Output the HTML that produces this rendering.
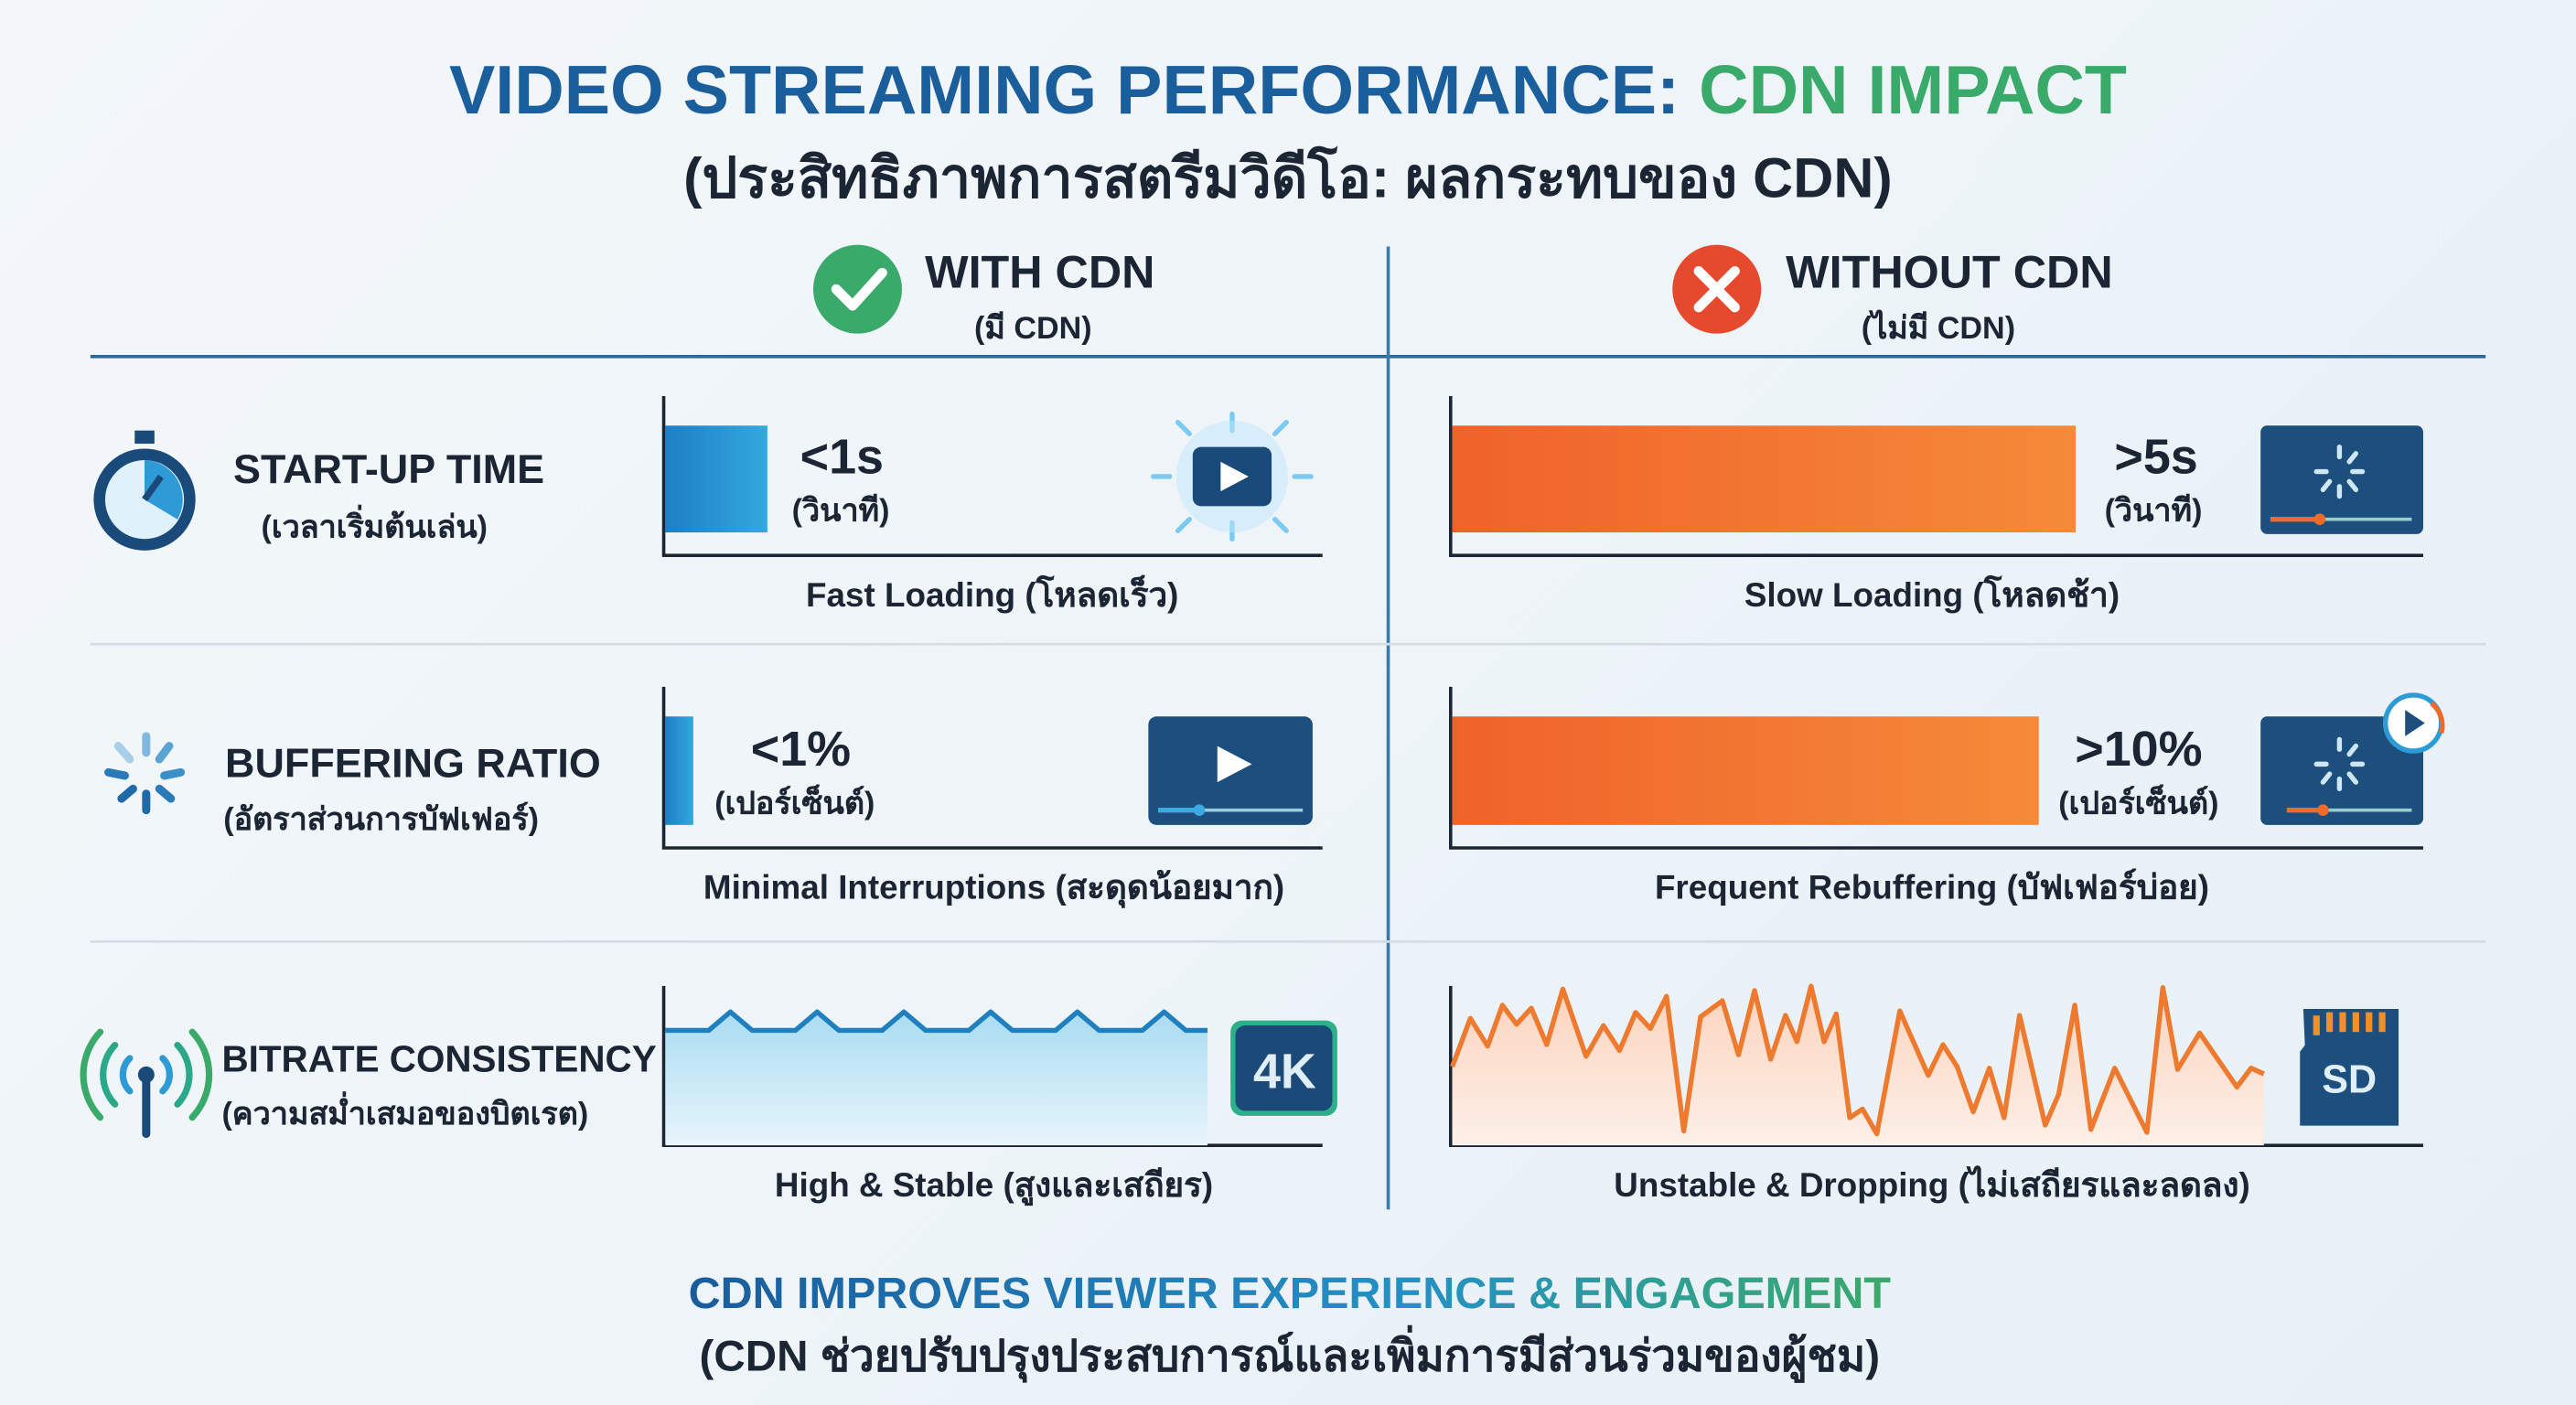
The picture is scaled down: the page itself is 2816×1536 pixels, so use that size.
<!DOCTYPE html>
<html><head><meta charset="utf-8">
<style>
html,body{margin:0;padding:0;width:2816px;height:1536px;overflow:hidden;background:#eef4f8}
#wrap{position:absolute;left:0;top:0;width:1568px;height:855px;transform-origin:0 0;transform:scale(1.79592,1.79649);
background:linear-gradient(135deg,#f3f7fa 0%,#eef4f8 50%,#e6f0f6 100%);font-family:"Liberation Sans","Noto Sans CJK SC",sans-serif;color:#1b2533}
.t{position:absolute;white-space:nowrap;font-weight:bold}
</style></head><body>
<div id="wrap">
<svg width="1568" height="855" style="position:absolute;left:0;top:0">
<defs>
<linearGradient id="og" x1="0" x2="1"><stop offset="0" stop-color="#f0622a"/><stop offset="1" stop-color="#f58a3a"/></linearGradient>
<linearGradient id="bg" x1="0" x2="1"><stop offset="0" stop-color="#1d7fc4"/><stop offset="1" stop-color="#35a8df"/></linearGradient>
<linearGradient id="bf" x1="0" y1="0" x2="0" y2="1"><stop offset="0" stop-color="#a9dcf2"/><stop offset="1" stop-color="#e8f5fb"/></linearGradient>
<linearGradient id="of" x1="0" y1="0" x2="0" y2="1"><stop offset="0" stop-color="#fbd3bd"/><stop offset="1" stop-color="#fdf0e8"/></linearGradient>
<linearGradient id="fg" x1="0" x2="1"><stop offset="0" stop-color="#1a5c9c"/><stop offset="0.6" stop-color="#2590c4"/><stop offset="1" stop-color="#3aaa6a"/></linearGradient>
</defs>
<line x1="55" y1="217" x2="1513" y2="217" stroke="#2a6a9a" stroke-width="2"/>
<line x1="845" y1="150" x2="845" y2="736" stroke="#3a7aa8" stroke-width="2"/>
<line x1="55" y1="392" x2="1513" y2="392" stroke="#d4dde4" stroke-width="1.5"/>
<line x1="55" y1="573" x2="1513" y2="573" stroke="#d4dde4" stroke-width="1.5"/>
<circle cx="522" cy="176" r="27" fill="#3aaa6a"/>
<path d="M509 176 L519 186 L537 166" fill="none" stroke="#fff" stroke-width="6" stroke-linecap="round" stroke-linejoin="round"/>
<circle cx="1045" cy="176" r="27" fill="#e54a2e"/>
<path d="M1034 165 L1056 187 M1056 165 L1034 187" stroke="#fff" stroke-width="6" stroke-linecap="round"/>
<g>
<rect x="82" y="262" width="12" height="8" fill="#1a4a7a"/>
<circle cx="88" cy="304" r="31" fill="#1a4a7a"/><circle cx="88" cy="304" r="24" fill="#dff1fb"/>
<path d="M88 304 L88 280 A24 24 0 0 1 108 316 Z" fill="#2e9ad6"/>
<line x1="88" y1="304" x2="98" y2="290" stroke="#1a4a7a" stroke-width="4"/>
</g>
<g stroke-linecap="round" stroke-width="5">
<line x1="89" y1="448" x2="89" y2="458" stroke="#7fb8dc"/><line x1="103" y1="454" x2="97" y2="462" stroke="#5aa3d2"/>
<line x1="110" y1="470" x2="100" y2="472" stroke="#3a8fc6"/><line x1="104" y1="486" x2="97" y2="480" stroke="#2a7ab8"/>
<line x1="89" y1="493" x2="89" y2="483" stroke="#1e6aa8"/><line x1="74" y1="486" x2="81" y2="480" stroke="#1e6aa8"/>
<line x1="66" y1="470" x2="76" y2="472" stroke="#2a7ab8"/><line x1="72" y1="454" x2="79" y2="462" stroke="#a8cfe8"/>
</g>
<g fill="none" stroke-linecap="round" stroke-width="4">
<circle cx="89" cy="654" r="5" fill="#1a4a7a" stroke="none"/><line x1="89" y1="656" x2="89" y2="690" stroke="#1a4a7a" stroke-width="5"/>
<path d="M79 644 A14 14 0 0 0 79 664 M99 644 A14 14 0 0 1 99 664" stroke="#2e9ad6"/>
<path d="M70 636 A26 26 0 0 0 70 672 M108 636 A26 26 0 0 1 108 672" stroke="#2ba88a"/>
<path d="M61 628 A38 38 0 0 0 61 680 M117 628 A38 38 0 0 1 117 680" stroke="#3aaa6a"/>
</g>
<g id="axes"></g>
<g id="marks"></g>
<g>
<g stroke="#7ccaf0" stroke-width="3" stroke-linecap="round">
<line x1="750" y1="252" x2="750" y2="262"/><line x1="750" y1="318" x2="750" y2="328"/><line x1="712" y1="290" x2="702" y2="290"/><line x1="788" y1="290" x2="798" y2="290"/>
<line x1="724" y1="264" x2="717" y2="257"/><line x1="776" y1="264" x2="783" y2="257"/><line x1="724" y1="316" x2="717" y2="323"/><line x1="776" y1="316" x2="783" y2="323"/></g>
<circle cx="750" cy="290" r="34" fill="#bfe6fa" opacity="0.5"/>
<rect x="726" y="272" width="48" height="36" rx="5" fill="#1a4a7a"/><path d="M743 281 L760 290 L743 299 Z" fill="#fff"/>
</g>
<g>
<rect x="1376" y="259" width="99" height="66" rx="4" fill="#1c4f7e"/>
<g stroke="#cfe6f5" stroke-width="3" stroke-linecap="round"><line x1="1424" y1="272" x2="1424" y2="278"/><line x1="1434" y1="276" x2="1430" y2="281"/><line x1="1438" y1="287" x2="1432" y2="287"/><line x1="1434" y1="298" x2="1430" y2="293"/><line x1="1424" y1="302" x2="1424" y2="296"/><line x1="1414" y1="298" x2="1418" y2="293"/><line x1="1410" y1="287" x2="1416" y2="287"/></g>
<line x1="1382" y1="316" x2="1468" y2="316" stroke="#9cc" stroke-width="2"/><line x1="1382" y1="316" x2="1412" y2="316" stroke="#f06a2a" stroke-width="3"/><circle cx="1412" cy="316" r="3.5" fill="#f06a2a"/>
</g>
<g>
<rect x="699" y="436" width="100" height="66" rx="5" fill="#1c4f7e"/><path d="M741 454 L762 465 L741 476 Z" fill="#fff"/>
<line x1="705" y1="493" x2="793" y2="493" stroke="#9cd" stroke-width="2"/><line x1="705" y1="493" x2="730" y2="493" stroke="#3aaae0" stroke-width="3"/><circle cx="730" cy="493" r="3.5" fill="#3aaae0"/>
</g>
<g>
<rect x="1376" y="436" width="99" height="66" rx="4" fill="#1c4f7e"/>
<g stroke="#cfe6f5" stroke-width="3" stroke-linecap="round"><line x1="1424" y1="450" x2="1424" y2="456"/><line x1="1434" y1="454" x2="1430" y2="459"/><line x1="1438" y1="465" x2="1432" y2="465"/><line x1="1434" y1="476" x2="1430" y2="471"/><line x1="1424" y1="480" x2="1424" y2="474"/><line x1="1414" y1="476" x2="1418" y2="471"/><line x1="1410" y1="465" x2="1416" y2="465"/></g>
<line x1="1392" y1="493" x2="1468" y2="493" stroke="#9cc" stroke-width="2"/><line x1="1392" y1="493" x2="1414" y2="493" stroke="#f06a2a" stroke-width="3"/><circle cx="1414" cy="493" r="3.5" fill="#f06a2a"/>
<circle cx="1469" cy="440" r="17" fill="#fff" stroke="#2e9ad6" stroke-width="3"/><path d="M1464 432 L1476 440 L1464 448 Z" fill="#1c4f7e"/>
<path d="M1480 428 A17 17 0 0 1 1486 446" stroke="#f06a2a" stroke-width="3" fill="none"/>
</g>
<g>
<rect x="749" y="621" width="65" height="58" rx="7" fill="#2bb08a"/><rect x="752" y="624" width="59" height="52" rx="6" fill="#1b4a78"/>
<text x="782" y="662" font-size="30" font-weight="bold" fill="#e0eef8" text-anchor="middle" font-family="Liberation Sans">4K</text>
</g>
<g>
<path d="M1402 614 L1460 614 L1460 685 L1400 685 L1400 640 L1403 636 Z" fill="#1c4f7e"/>
<g fill="#f0902a"><rect x="1408" y="618" width="4" height="12"/><rect x="1416" y="616" width="4" height="12"/><rect x="1424" y="616" width="4" height="12"/><rect x="1432" y="616" width="4" height="12"/><rect x="1440" y="616" width="4" height="12"/><rect x="1448" y="616" width="4" height="12"/></g>
<text x="1430" y="665" font-size="24" font-weight="bold" fill="#e0eef8" text-anchor="middle" font-family="Liberation Sans">SD</text>
</g>
<text x="784" y="69" font-size="42" font-weight="bold" text-anchor="middle" font-family="Liberation Sans"><tspan fill="#1a5e9c">VIDEO STREAMING PERFORMANCE: </tspan><tspan fill="#3aaa6a">CDN IMPACT</tspan></text>
<text x="785" y="796" font-size="27" font-weight="bold" text-anchor="middle" fill="url(#fg)" font-family="Liberation Sans">CDN IMPROVES VIEWER EXPERIENCE &amp; ENGAGEMENT</text>
</svg>
<div class="t" style="left:0;width:1568px;text-align:center;top:81px;font-size:34px">(ประสิทธิภาพการสตรีมวิดีโอ: ผลกระทบของ CDN)</div>
<div class="t" style="left:563px;top:150px;font-size:28px">WITH CDN</div>
<div class="t" style="left:593px;top:185px;font-size:19px">(มี CDN)</div>
<div class="t" style="left:1087px;top:150px;font-size:28px">WITHOUT CDN</div>
<div class="t" style="left:1133px;top:185px;font-size:19px">(ไม่มี CDN)</div>
<div class="t" style="left:142px;top:272px;font-size:25px">START-UP TIME</div>
<div class="t" style="left:159px;top:306px;font-size:19px">(เวลาเริ่มต้นเล่น)</div>
<div class="t" style="left:137px;top:451px;font-size:25px">BUFFERING RATIO</div>
<div class="t" style="left:136px;top:484px;font-size:19px">(อัตราส่วนการบัฟเฟอร์)</div>
<div class="t" style="left:135px;top:632px;font-size:22.5px">BITRATE CONSISTENCY</div>
<div class="t" style="left:135px;top:663px;font-size:19px">(ความสม่ำเสมอของบิตเรต)</div>
<div class="t" style="left:487px;top:262px;font-size:30px">&lt;1s</div>
<div class="t" style="left:482px;top:296px;font-size:19px">(วินาที)</div>
<div class="t" style="left:1287px;top:262px;font-size:30px">&gt;5s</div>
<div class="t" style="left:1281px;top:296px;font-size:19px">(วินาที)</div>
<div class="t" style="left:457px;top:440px;font-size:30px">&lt;1%</div>
<div class="t" style="left:435px;top:474px;font-size:19px">(เปอร์เซ็นต์)</div>
<div class="t" style="left:1263px;top:440px;font-size:30px">&gt;10%</div>
<div class="t" style="left:1253px;top:474px;font-size:19px">(เปอร์เซ็นต์)</div>
<div class="t" style="left:404px;width:400px;text-align:center;top:346px;font-size:20.5px">Fast Loading (โหลดเร็ว)</div>
<div class="t" style="left:876px;width:600px;text-align:center;top:346px;font-size:20.5px">Slow Loading (โหลดช้า)</div>
<div class="t" style="left:355px;width:500px;text-align:center;top:524px;font-size:20.5px">Minimal Interruptions (สะดุดน้อยมาก)</div>
<div class="t" style="left:876px;width:600px;text-align:center;top:524px;font-size:20.5px">Frequent Rebuffering (บัฟเฟอร์บ่อย)</div>
<div class="t" style="left:355px;width:500px;text-align:center;top:705px;font-size:20.5px">High &amp; Stable (สูงและเสถียร)</div>
<div class="t" style="left:876px;width:600px;text-align:center;top:705px;font-size:20.5px">Unstable &amp; Dropping (ไม่เสถียรและลดลง)</div>
<div class="t" style="left:0;width:1570px;text-align:center;top:804px;font-size:26.5px">(CDN ช่วยปรับปรุงประสบการณ์และเพิ่มการมีส่วนร่วมของผู้ชม)</div>
</div>
<script>
const startupSeconds = [0.9, 5.5];
const bufferingPercent = [0.5, 10.5];
const stableBitrate = [5,5,5,5.8,5,5,5,5.8,5,5,5,5.8,5,5,5,5.8,5,5,5,5.8,5,5,5,5.8,5,5];
const unstableTimes = [10,38,65,88,110,133,157,182,218,245,270,295,318,343,370,396,430,455,480,505,528,546,568,588,607,628,648,670,706,750,773,795,820,845,868,892,932,953,978,1003,1040,1090,1115,1138,1172,1230,1252,1272];
const unstableBitrate = [4.6,7.9,6.0,8.8,7.5,8.6,6.1,9.9,5.3,7.4,5.7,8.3,7.2,9.4,0.2,8.0,9.1,5.4,9.8,5.1,8.1,6.3,10.1,6.3,8.2,1.1,1.7,0.0,8.4,4.0,6.1,4.6,1.5,4.5,1.1,8.1,0.6,2.7,8.8,0.3,4.5,0.1,10.0,4.4,6.9,3.2,4.5,4.1];
const NS='http://www.w3.org/2000/svg';
const axes=document.getElementById('axes'), marks=document.getElementById('marks');
function mk(tag,attrs,parent){const e=document.createElementNS(NS,tag);for(const k in attrs)e.setAttribute(k,attrs[k]);parent.appendChild(e);return e;}
[[404,241,338,805],[883,241,338,1475],[404,418,516,805],[883,418,516,1475],[404,600,697,805],[883,600,697,1475]].forEach(function(a){
  const l=mk('path',{d:'M'+a[0]+' '+a[1]+' L'+a[0]+' '+a[2]+' L'+a[3]+' '+a[2],fill:'none',stroke:'#1b2533','stroke-width':2},axes);
  
  
});
const secX = v => v*69;
const pctX = v => v*34;
function bar(x0,y0,h,w,fill,name){const r=mk('rect',{x:x0,y:y0,width:w,height:h,fill:fill},marks);
  
  }
bar(405,259,65,secX(startupSeconds[0]),'url(#bg)','bar-startup-with-cdn');
bar(884,259,65,secX(startupSeconds[1]),'url(#og)','bar-startup-without-cdn');
bar(405,436,66,pctX(bufferingPercent[0]),'url(#bg)','bar-buffering-with-cdn');
bar(884,436,66,pctX(bufferingPercent[1]),'url(#og)','bar-buffering-without-cdn');
const sx = i => 405 + i*(735-405)/(stableBitrate.length-1);
const sy = v => 697 - v*14;
let sp=stableBitrate.map((v,i)=>sx(i).toFixed(1)+' '+sy(v).toFixed(1));
const sa=mk('path',{d:'M'+sx(0)+' 697 L'+sp.join(' L')+' L735 697 Z',fill:'url(#bf)'},marks);


const sl=mk('path',{d:'M'+sp.join(' L'),fill:'none',stroke:'#1f7fbf','stroke-width':3,'stroke-linejoin':'round'},marks);


const ux = t => 884 + (t-10)*(1378-884)/(1272-10);
const uy = v => 690 - v*8.9;
let up=unstableBitrate.map((v,i)=>ux(unstableTimes[i]).toFixed(1)+' '+uy(v).toFixed(1));
const ua=mk('path',{d:'M884 697 L'+up.join(' L')+' L1378 697 Z',fill:'url(#of)'},marks);


const ul=mk('path',{d:'M'+up.join(' L'),fill:'none',stroke:'#ee7a30','stroke-width':3,'stroke-linejoin':'round'},marks);


</script>
</body></html>
